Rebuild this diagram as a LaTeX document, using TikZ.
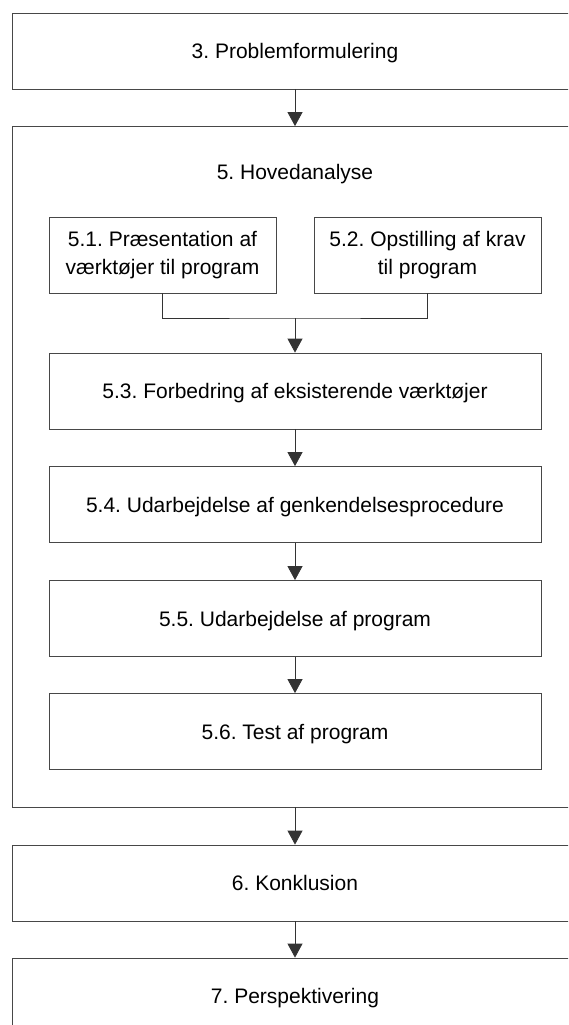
\documentclass[tikz,border=0pt]{standalone}
\usepackage{fontspec}
\setmainfont{Liberation Sans}
\usetikzlibrary{arrows.meta}
\frenchspacing

\begin{document}
\begin{tikzpicture}[x=1pt,y=-1pt,
  every node/.style={font=\fontsize{21}{27}\selectfont, text=black},
  box/.style={draw=black!72, line width=0.8pt, rectangle, inner sep=0pt,
              minimum height=76pt, align=center},
  oneline/.style={text depth=0pt},
  wide/.style={box, oneline, minimum width=566pt},
  inner/.style={box, oneline, minimum width=492pt},
  half/.style={box, minimum width=227pt},
  flow/.style={draw=black!80, line width=0.8pt},
  arr/.style={flow, -{Triangle[width=15pt,length=14pt]}}
]
  \useasboundingbox (0,0) rectangle (568,1025);
  \clip (0,0) rectangle (568,1025);
  \fill[white] (0,0) rectangle (568,1025);

  % chapter boxes
  \node[wide] (prob) at (295,51) {3. Problemformulering};
  \node[box, minimum width=566pt, minimum height=680.5pt] (main) at (295,466.75) {};
  \node[oneline] (mainlbl) at (295,172) {5. Hovedanalyse};
  \node[wide] (konk) at (295,883) {6. Konklusion};
  \node[wide] (persp) at (295,996) {7. Perspektivering};

  % sections of the main analysis
  \node[half] (s51) at (162.5,255) {5.1. Præsentation af\\[0.5pt]værktøjer til program};
  \node[half] (s52) at (427.5,255) {5.2. Opstilling af krav\\[0.5pt]til program};
  \node[inner] (s53) at (295,391) {5.3. Forbedring af eksisterende værktøjer};
  \node[inner] (s54) at (295,504.5) {5.4. Udarbejdelse af genkendelsesprocedure};
  \node[inner] (s55) at (295,618.5) {5.5. Udarbejdelse af program};
  \node[inner] (s56) at (295,731.5) {5.6. Test af program};

  % connectors
  \coordinate (join) at (295,318);
  \draw[arr] (prob) -- (main);
  \draw[flow] (s51.south) |- (join) -| (s52.south);
  \draw[arr] (join) -- (s53.north);
  \draw[arr] (s53) -- (s54);
  \draw[arr] (s54) -- (s55);
  \draw[arr] (s55) -- (s56);
  \draw[arr] (main) -- (konk);
  \draw[arr] (konk) -- (persp);
\end{tikzpicture}
\end{document}
